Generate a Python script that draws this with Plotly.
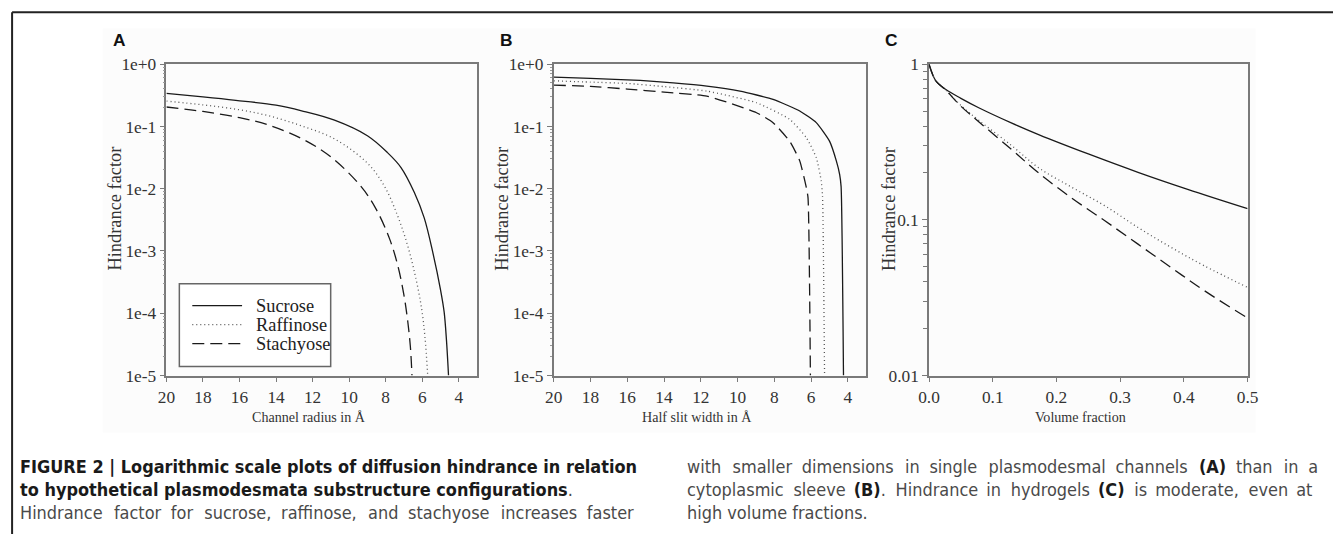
import plotly.graph_objects as go

W, H = 1344, 544
# the photographed page (8px body margin, page slightly larger than the window) is scaled
# into the 1344x544 picture; positions below are given in picture pixels and mapped back.
SX, SY, OFF = 0.988, 0.967, 8
FS = 1.02  # font size compensation for that scaling

# ---------------- data ----------------
series_names = ["Sucrose", "Raffinose", "Stachyose"]

# Panel A: channel radius (Å) vs hindrance factor
a_sucrose_r = [20, 18, 16.2, 14, 12.6, 10.8, 9.0, 7.9, 7.16, 6.43, 5.89, 5.4, 5.0, 4.8, 4.67, 4.56]
a_sucrose_h = [0.339, 0.299, 0.263, 0.219, 0.178, 0.126, 0.0708, 0.038, 0.0219, 0.0087, 0.0034,
               0.00089, 0.00024, 0.000105, 0.000036, 0.00001]
a_raffinose_r = [20, 18, 16, 14.4, 12.6, 10.8, 9.0, 8.07, 7.34, 6.79, 6.34, 6.03, 5.85, 5.70]
a_raffinose_h = [0.255, 0.222, 0.185, 0.148, 0.102, 0.063, 0.0257, 0.011, 0.00363, 0.0012,
                 0.000355, 0.000117, 0.0000417, 0.00001]
a_stachyose_r = [20, 18, 16, 14.4, 12.6, 11.0, 9.33, 8.5, 7.79, 7.34, 7.0, 6.8, 6.65, 6.56]
a_stachyose_h = [0.205, 0.174, 0.138, 0.105, 0.0637, 0.0324, 0.0107, 0.00457, 0.00158, 0.000589,
                 0.000195, 0.0000776, 0.0000295, 0.00001]

# Panel B: half slit width (Å) vs hindrance factor
b_sucrose_w = [20, 18, 16, 15.3, 13.5, 11.67, 9.87, 8.07, 6.62, 5.72, 5.0, 4.63, 4.45, 4.37, 4.24]
b_sucrose_h = [0.62, 0.59, 0.56, 0.547, 0.50, 0.444, 0.369, 0.272, 0.177, 0.115, 0.058, 0.028,
               0.017, 0.0108, 0.00001]
b_raffinose_w = [20, 18, 16, 14, 11.67, 8.97, 7.17, 6.26, 5.72, 5.45, 5.38, 5.27]
b_raffinose_h = [0.54, 0.515, 0.49, 0.436, 0.369, 0.24, 0.13, 0.066, 0.0316, 0.0133, 0.0075, 0.00001]
b_stachyose_w = [20, 18, 16, 14, 11.67, 8.97, 8.07, 7.17, 6.62, 6.26, 6.17, 6.04]
b_stachyose_h = [0.46, 0.44, 0.398, 0.355, 0.307, 0.166, 0.115, 0.058, 0.028, 0.0104, 0.0072, 0.00001]

# Panel C: volume fraction vs hindrance factor
c_sucrose_v = [0, 0.0104, 0.026, 0.05, 0.078, 0.13, 0.172, 0.25, 0.328, 0.406, 0.5]
c_sucrose_h = [1.0, 0.785, 0.689, 0.603, 0.525, 0.418, 0.353, 0.265, 0.202, 0.157, 0.118]
c_raffinose_v = [0, 0.0104, 0.026, 0.05, 0.078, 0.13, 0.172, 0.224, 0.276, 0.328, 0.38, 0.432, 0.5]
c_raffinose_h = [1.0, 0.785, 0.684, 0.543, 0.436, 0.299, 0.216, 0.162, 0.123, 0.0893, 0.0665, 0.0507, 0.0368]
c_stachyose_v = [0, 0.0104, 0.026, 0.05, 0.078, 0.13, 0.172, 0.224, 0.276, 0.328, 0.38, 0.432, 0.5]
c_stachyose_h = [1.0, 0.785, 0.684, 0.537, 0.427, 0.282, 0.2, 0.138, 0.0986, 0.0698, 0.0494, 0.0351, 0.0234]

ab_xticks = [20, 18, 16, 14, 12, 10, 8, 6, 4]
ab_yticks = [1e-5, 1e-4, 1e-3, 1e-2, 1e-1, 1]
ab_yticktext = ["1e-5", "1e-4", "1e-3", "1e-2", "1e-1", "1e+0"]
c_xticks = [0, 0.1, 0.2, 0.3, 0.4, 0.5]
c_yticks = [0.01, 0.1, 1]
c_yticktext = ["0.01", "0.1", "1"]

x_titles = ["Channel radius in Å", "Half slit width in Å", "Volume fraction"]
y_title = "Hindrance factor"
panel_letters = ["A", "B", "C"]

# ---------------- styles ----------------
SERIF = "Liberation Serif, Times New Roman, serif"
CAPFONT = "DejaVu Sans Condensed, Liberation Sans, Arial, sans-serif"
AX = "#7a7a7a"
line_styles = {
    "Sucrose": dict(color="#1a1a1a", width=1.3, dash="solid"),
    "Raffinose": dict(color="#555555", width=1.3, dash="1px,3px"),
    "Stachyose": dict(color="#1a1a1a", width=1.3, dash="12px,6px"),
}


def px_x(t):
    return (t / SX - OFF) / W


def px_y(t):
    return 1 - (t / SY - OFF) / H


def fs(s):
    return round(s * FS, 2)


dom_y = [px_y(375), px_y(63)]
dom_a = [px_x(164), px_x(476)]
dom_b = [px_x(553), px_x(867)]
dom_c = [px_x(930), px_x(1250)]

fig = go.Figure()

panel_data = [
    ("x", "y", 1.0, [(a_sucrose_r, a_sucrose_h), (a_raffinose_r, a_raffinose_h), (a_stachyose_r, a_stachyose_h)]),
    ("x2", "y2", 0.5, [(b_sucrose_w, b_sucrose_h), (b_raffinose_w, b_raffinose_h), (b_stachyose_w, b_stachyose_h)]),
    ("x3", "y3", 1.0, [(c_sucrose_v, c_sucrose_h), (c_raffinose_v, c_raffinose_h), (c_stachyose_v, c_stachyose_h)]),
]
for pi, (xa, ya, sm, curves) in enumerate(panel_data):
    for name, (xs, ys) in zip(series_names, curves):
        fig.add_trace(go.Scatter(
            x=xs, y=ys, mode="lines", name=name,
            line=dict(shape="spline", smoothing=sm, **line_styles[name]),
            xaxis=xa, yaxis=ya, showlegend=False, legendgroup=name, hoverinfo="x+y+name",
        ))

tickfont = dict(family=SERIF, size=fs(17), color="#333333")
common_axis = dict(showline=True, linecolor=AX, linewidth=1.5, mirror=True, showgrid=False,
                   zeroline=False, ticks="outside", ticklen=5, tickwidth=1.3, tickcolor=AX,
                   tickfont=tickfont)

ab_minor = [k * 10.0 ** e for e in range(-5, 0) for k in range(2, 10)]
c_minor = [k * 10.0 ** e for e in range(-2, 0) for k in range(2, 10)]

fig.update_layout(
    width=W, height=H,
    margin=dict(l=0, r=0, t=0, b=0),
    paper_bgcolor="white", plot_bgcolor="white",
    showlegend=False,
    xaxis=dict(domain=dom_a, anchor="y", range=[20, 3], tickvals=ab_xticks,
               ticktext=[str(v) for v in ab_xticks], **common_axis),
    yaxis=dict(domain=dom_y, anchor="x", type="log", range=[-5, 0], tickvals=ab_yticks,
               ticktext=ab_yticktext,
               minor=dict(ticks="outside", ticklen=2, tickcolor="#999999", tickvals=ab_minor),
               **common_axis),
    xaxis2=dict(domain=dom_b, anchor="y2", range=[20, 3], tickvals=ab_xticks,
                ticktext=[str(v) for v in ab_xticks], **common_axis),
    yaxis2=dict(domain=dom_y, anchor="x2", type="log", range=[-5, 0], tickvals=ab_yticks,
                ticktext=ab_yticktext,
                minor=dict(ticks="outside", ticklen=2, tickcolor="#999999", tickvals=ab_minor),
                **common_axis),
    xaxis3=dict(domain=dom_c, anchor="y3", range=[0, 0.5], tickvals=c_xticks,
                tickformat=".1f", **common_axis),
    yaxis3=dict(domain=dom_y, anchor="x3", type="log", range=[-2, 0], tickvals=c_yticks,
                ticktext=c_yticktext,
                minor=dict(ticks="outside", ticklen=4, tickcolor=AX, tickvals=c_minor),
                **common_axis),
)

shapes = [
    # faint figure background
    dict(type="rect", xref="paper", yref="paper", x0=px_x(100), x1=px_x(1258), y0=px_y(432), y1=px_y(27),
         fillcolor="#fcfcfc", line=dict(width=0), layer="below"),
    # outer frame (top and left edges)
    dict(type="line", xref="paper", yref="paper", x0=px_x(9), x1=1.0, y0=px_y(11), y1=px_y(11),
         line=dict(color="#222222", width=2)),
    dict(type="line", xref="paper", yref="paper", x0=px_x(9), x1=px_x(9), y0=px_y(11), y1=0,
         line=dict(color="#222222", width=2)),
    # legend box (panel A)
    dict(type="rect", xref="paper", yref="paper", x0=px_x(177), x1=px_x(329), y0=px_y(366), y1=px_y(283),
         fillcolor="white", line=dict(color="#666666", width=1.5)),
]
ann = []
legend_rows = [305, 324, 343]
for name, yp in zip(series_names, legend_rows):
    st = line_styles[name]
    shapes.append(dict(type="line", xref="paper", yref="paper", x0=px_x(190), x1=px_x(240),
                       y0=px_y(yp), y1=px_y(yp),
                       line=dict(color=st["color"], width=st["width"], dash=st["dash"])))
    ann.append(dict(text=name, x=px_x(252), y=px_y(yp), xref="paper", yref="paper", showarrow=False,
                    xanchor="left", yanchor="middle",
                    font=dict(family=SERIF, size=fs(18), color="#222222")))
fig.update_layout(shapes=shapes)

# panel letters
for letter, xp in zip(panel_letters, [117, 506, 892]):
    ann.append(dict(text=f"<b>{letter}</b>", x=px_x(xp), y=px_y(39), xref="paper", yref="paper",
                    showarrow=False, xanchor="center", yanchor="middle",
                    font=dict(family="Liberation Sans, Arial, sans-serif", size=fs(17), color="#111111")))
# y titles
for xp in [112, 501, 890]:
    ann.append(dict(text=y_title, x=px_x(xp), y=px_y(208), xref="paper", yref="paper",
                    showarrow=False, textangle=-90, xanchor="center", yanchor="middle",
                    font=dict(family=SERIF, size=fs(18), color="#333333")))
# x titles
for t, xp in zip(x_titles, [307, 697, 1082]):
    ann.append(dict(text=t, x=px_x(xp), y=px_y(417), xref="paper", yref="paper",
                    showarrow=False, xanchor="center", yanchor="middle",
                    font=dict(family=SERIF, size=fs(13.8), color="#333333")))


# caption (justified lines get wider spaces)
def justify(words, base, extra_every=2):
    out = words[0]
    for i, w in enumerate(words[1:]):
        gap = base + ("\u200a" if i % extra_every == 0 else "")
        out += gap + w
    return out


EN = "\u2002"
ENH = "\u2002\u200a"
B = '<span style="color:#1a1a1a"><b>{}</b></span>'
caption_left = [
    B.format("FIGURE 2 | Logarithmic scale plots of diffusion hindrance in relation"),
    B.format("to hypothetical plasmodesmata substructure configurations") + ".",
    justify("Hindrance factor for sucrose, raffinose, and stachyose increases faster".split(" "), ENH),
]
caption_right = [
    justify(["with", "smaller", "dimensions", "in", "single", "plasmodesmal", "channels",
             B.format("(A)"), "than", "in", "a"], ENH),
    justify(["cytoplasmic", "sleeve", B.format("(B)") + ".", "Hindrance", "in", "hydrogels",
             B.format("(C)"), "is", "moderate,", "even", "at"], EN),
    "high volume fractions.",
]
for i, (tl, tr) in enumerate(zip(caption_left, caption_right)):
    yp = 466 + i * 23
    ann.append(dict(text=tl, x=px_x(15), y=px_y(yp), xref="paper", yref="paper", showarrow=False,
                    xanchor="left", yanchor="middle",
                    font=dict(family=CAPFONT, size=fs(17.6), color="#4a4a4a")))
    ann.append(dict(text=tr, x=px_x(685), y=px_y(yp), xref="paper", yref="paper", showarrow=False,
                    xanchor="left", yanchor="middle",
                    font=dict(family=CAPFONT, size=fs(17.6), color="#4a4a4a")))

fig.update_layout(annotations=ann)

fig.write_html("out.html")
